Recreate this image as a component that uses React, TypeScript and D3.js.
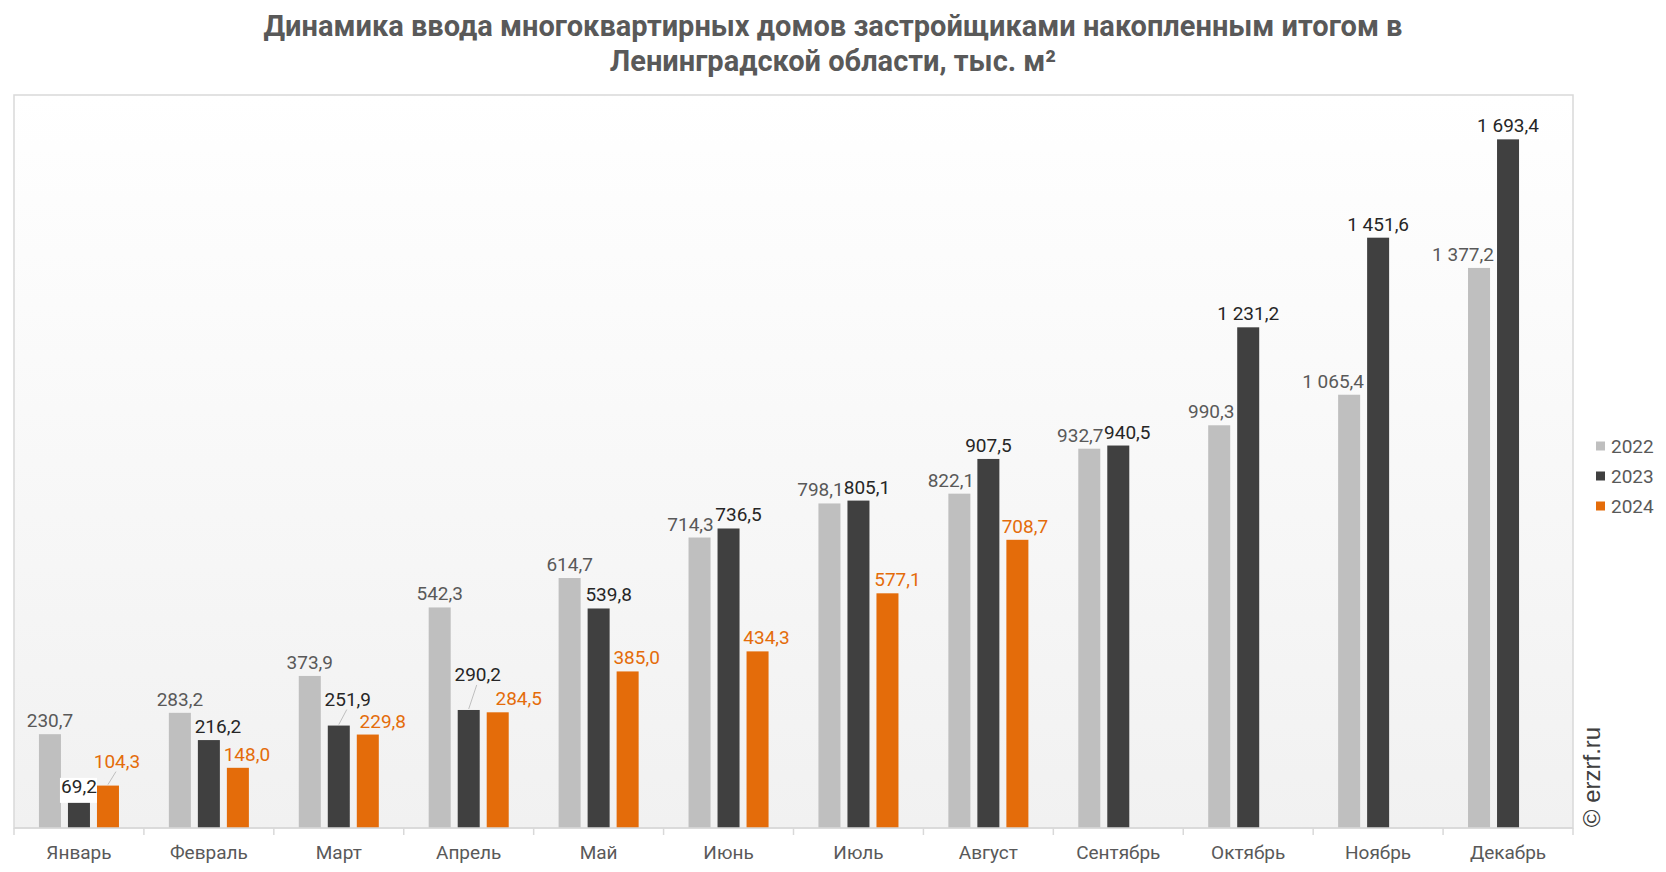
import React from "react";
import * as d3 from "d3";

const months = ["Январь", "Февраль", "Март", "Апрель", "Май", "Июнь", "Июль", "Август", "Сентябрь", "Октябрь", "Ноябрь", "Декабрь"];
const seriesNames = ["2022", "2023", "2024"];
const values2022 = [230.7, 283.2, 373.9, 542.3, 614.7, 714.3, 798.1, 822.1, 932.7, 990.3, 1065.4, 1377.2];
const values2023 = [69.2, 216.2, 251.9, 290.2, 539.8, 736.5, 805.1, 907.5, 940.5, 1231.2, 1451.6, 1693.4];
const values2024: (number | null)[] = [104.3, 148.0, 229.8, 284.5, 385.0, 434.3, 577.1, 708.7, null, null, null, null];
const titleLines = ["Динамика ввода многоквартирных домов застройщиками накопленным итогом в", "Ленинградской области, тыс. м²"];

// label placement nudges (style, not data)
const labelDx = [
  [0, 0, 0, 0, 0, -9, -9, -8.5, -9, -8, -16, -16],
  [0, 9, 9, 9, 10, 10, 8.5, 0, 9, 0, 0, 0],
  [9, 9, 15, 21, 9, 9, 10, 7.5, 0, 0, 0, 0],
];
const labelDy = [
  [0, 0, 0, 0, 0, 0, 0, 0, 0, 0, 0, 0],
  [0, 0, -13, -22, 0, 0, 0, 0, 0, 0, 0, 0],
  [-11, 0, 0, 0, 0, 0, 0, 0, 0, 0, 0, 0],
];
const leaderLines = [
  [false, false, false, false, false, false, false, false, false, false, false, false],
  [false, false, true, true, false, false, false, false, false, false, false, false],
  [true, false, false, false, false, false, false, false, false, false, false, false],
];

const colors = ["#bfbfbf", "#404040", "#e46c0a"];
const labelColors = ["#595959", "#262626", "#e46c0a"];

const W = 1666, H = 872;
const plot = { left: 14, right: 1573, top: 95, bottom: 828 };

const fmt = d3.formatLocale({ decimal: ",", thousands: "\u00a0", grouping: [3], currency: ["", ""] }).format(",.1f");

export default function App() {
  const series = [values2022, values2023, values2024];
  const x = d3.scaleBand<string>().domain(months).range([plot.left, plot.right]).paddingInner(0).paddingOuter(0);
  const xs = d3.scaleBand<string>().domain(seriesNames).range([0, x.bandwidth()]).paddingInner(7 / 29).paddingOuter(0.86);
  const y = d3.scaleLinear().domain([0, 1800]).range([plot.bottom, 96]);
  const font = "Roboto, 'Noto Sans', sans-serif";
  const ticks = months.map((m) => x(m)!).concat([plot.right]);

  return (
    <svg width={W} height={H} style={{ position: "fixed", left: 0, top: 0, background: "#fff" }} fontFamily={font}>
      <defs>
        <linearGradient id="bg" x1="0" y1="0" x2="0" y2="1">
          <stop offset="0" stopColor="#ffffff" />
          <stop offset="1" stopColor="#f1f1f1" />
        </linearGradient>
      </defs>
      {titleLines.map((t, i) => (
        <text key={i} x={W / 2} y={36 + i * 35} textAnchor="middle" fontSize={29} fontWeight="bold" fill="#595959">{t}</text>
      ))}
      <rect x={plot.left} y={plot.top} width={plot.right - plot.left} height={plot.bottom - plot.top} fill="url(#bg)" stroke="#d9d9d9" strokeWidth={1.5} />
      {series.map((vals, si) =>
        vals.map((v, i) => {
          if (v == null) return null;
          const bx = x(months[i])! + xs(seriesNames[si])!;
          const by = y(v);
          return <rect key={`b${si}-${i}`} x={bx} y={by} width={xs.bandwidth()} height={plot.bottom - by} fill={colors[si]} />;
        })
      )}
      <line x1={plot.left} x2={plot.right} y1={plot.bottom} y2={plot.bottom} stroke="#d9d9d9" strokeWidth={1.5} />
      {ticks.map((t, i) => (
        <line key={`t${i}`} x1={t} x2={t} y1={plot.bottom} y2={plot.bottom + 7} stroke="#d9d9d9" strokeWidth={1.5} />
      ))}
      {months.map((m) => (
        <text key={m} x={x(m)! + x.bandwidth() / 2} y={859} textAnchor="middle" fontSize={19} fill="#595959">{m}</text>
      ))}
      {series.map((vals, si) =>
        vals.map((v, i) => {
          if (v == null) return null;
          const cx = x(months[i])! + xs(seriesNames[si])! + xs.bandwidth() / 2;
          const top = y(v);
          const lx = cx + labelDx[si][i];
          const ly = top - 7 + labelDy[si][i];
          const label = fmt(v);
          const isWhiteBg = si === 1 && i === 0;
          return (
            <g key={`l${si}-${i}`}>
              {leaderLines[si][i] && <line x1={lx - 1} y1={ly + 4} x2={cx} y2={top - 1} stroke="#bfbfbf" strokeWidth={1} />}
              {isWhiteBg && <rect x={lx - 19} y={ly - 15} width={37} height={25} fill="#ffffff" />}
              <text x={lx} y={ly} textAnchor="middle" fontSize={19} fill={labelColors[si]}>{label}</text>
            </g>
          );
        })
      )}
      {seriesNames.map((s, i) => (
        <g key={s} transform={`translate(1596, ${446 + i * 30})`}>
          <rect x={0} y={-4.5} width={9} height={9} fill={colors[i]} />
          <text x={15} y={6.5} fontSize={19} fill="#595959">{s}</text>
        </g>
      ))}
      <text transform="translate(1600, 777) rotate(-90)" textAnchor="middle" fontSize={24} fontFamily="'Liberation Sans', Arial, sans-serif" fill="#404040">© erzrf.ru</text>
    </svg>
  );
}
